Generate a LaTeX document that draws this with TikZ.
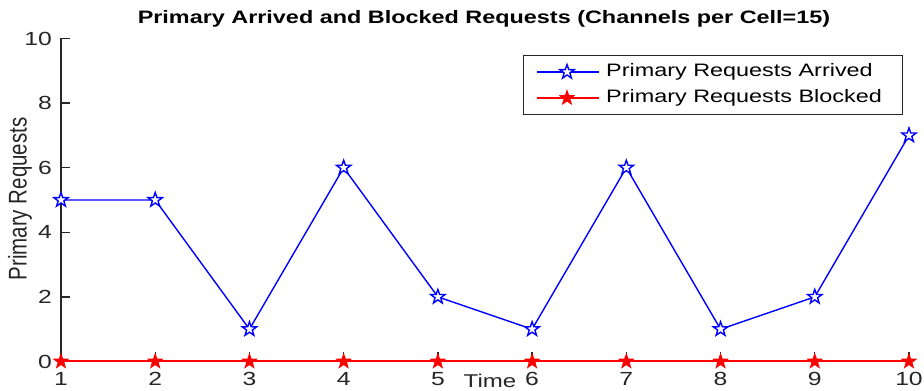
\documentclass[tikz,border=0pt]{standalone}
\usepackage{fontspec}
\setmainfont[FakeStretch=1.3]{Liberation Sans}
\newfontfamily\plainsans{Liberation Sans}
\usetikzlibrary{shapes.geometric}
\definecolor{axisgray}{HTML}{262626}
\tikzset{
  axisline/.style={draw=axisgray, line width=1.3pt},
  ticklbl/.style={text=axisgray, font=\fontsize{19}{21}\selectfont, inner sep=0pt},
  arrivedline/.style={draw=blue, line width=1.4pt},
  blockedline/.style={draw=red, line width=2pt},
  arrivedmark/.style={star, star points=5, star point ratio=2.5, minimum size=15pt,
    inner sep=0pt, draw=blue, fill=white, line width=1.4pt},
  blockedmark/.style={star, star points=5, star point ratio=2.5, minimum size=14pt,
    inner sep=0pt, draw=red, fill=red, line width=1.2pt},
  legendtext/.style={anchor=west, inner sep=0pt, font=\fontsize{18}{20}\selectfont},
}
\begin{document}
\begin{tikzpicture}[x=1pt, y=1pt]
\useasboundingbox (0,0) rectangle (924,391);
% title
\node[font=\bfseries\fontsize{18}{20}\selectfont, text=black] (title) at (484,372) {Primary Arrived and Blocked Requests (Channels per Cell=15)};
% data area: x = 1..10, y = 0..10
\begin{scope}[shift={(-33.22,29.5)}, x=94.22pt, y=32.3pt]
  % axes
  \coordinate (ytop) at (1,10);
  \coordinate (ybot) at (1,0);
  \coordinate (xright) at (10,0);
  \draw[axisline] (ytop) -- (ybot) -- (xright);
  % y ticks and labels
  \foreach \v in {0,2,4,6,8,10} {
    \coordinate (yt\v) at (1,\v);
    \draw[axisline] (yt\v) -- ++(9pt,0);
    \node[ticklbl, anchor=east] (ylbl\v) at ([xshift=-9pt]yt\v) {\v};
  }
  % x ticks and labels
  \foreach \v in {1,...,10} {
    \coordinate (xt\v) at (\v,0);
    \draw[axisline] (xt\v) -- ++(0,9pt);
    \node[ticklbl, anchor=north] (xlbl\v) at ([yshift=-11pt]xt\v) {\v};
  }
  % series coordinates
  \foreach \i/\v in {1/5,2/5,3/1,4/6,5/2,6/1,7/6,8/1,9/2,10/7} {
    \coordinate (pa\i) at (\i,\v);
    \coordinate (pb\i) at (\i,0);
  }
  \draw[blockedline] (pb1) -- (pb2) -- (pb3) -- (pb4) -- (pb5) -- (pb6) -- (pb7) -- (pb8) -- (pb9) -- (pb10);
  \draw[arrivedline] (pa1) -- (pa2) -- (pa3) -- (pa4) -- (pa5) -- (pa6) -- (pa7) -- (pa8) -- (pa9) -- (pa10);
  \foreach \i in {1,...,10} {
    \node[arrivedmark] (ma\i) at (pa\i) {};
    \node[blockedmark] (mb\i) at (pb\i) {};
  }
\end{scope}
% axis labels
\node[text=axisgray, font=\fontsize{18.5}{20}\selectfont] (xlabel) at (490,10) {Time};
\begin{scope}[shift={(20,192)}, xscale=1.25]
  \node[text=axisgray, font=\plainsans\fontsize{20.5}{22}\selectfont, rotate=90, transform shape] (ylabel) at (0,0) {Primary Requests};
\end{scope}
% legend
\draw[draw=axisgray, line width=0.8pt, fill=white] (523,277) rectangle (902,336);
\coordinate (la0) at (537,319);
\coordinate (la1) at (599,319);
\coordinate (lb0) at (537,293);
\coordinate (lb1) at (599,293);
\draw[arrivedline] (la0) -- (la1);
\draw[blockedline] (lb0) -- (lb1);
\node[arrivedmark] (lma) at (567,319) {};
\node[blockedmark] (lmb) at (567,293) {};
\node[legendtext] (lta) at (606,319) {Primary Requests Arrived};
\node[legendtext] (ltb) at (606,293) {Primary Requests Blocked};
\end{tikzpicture}
\end{document}
